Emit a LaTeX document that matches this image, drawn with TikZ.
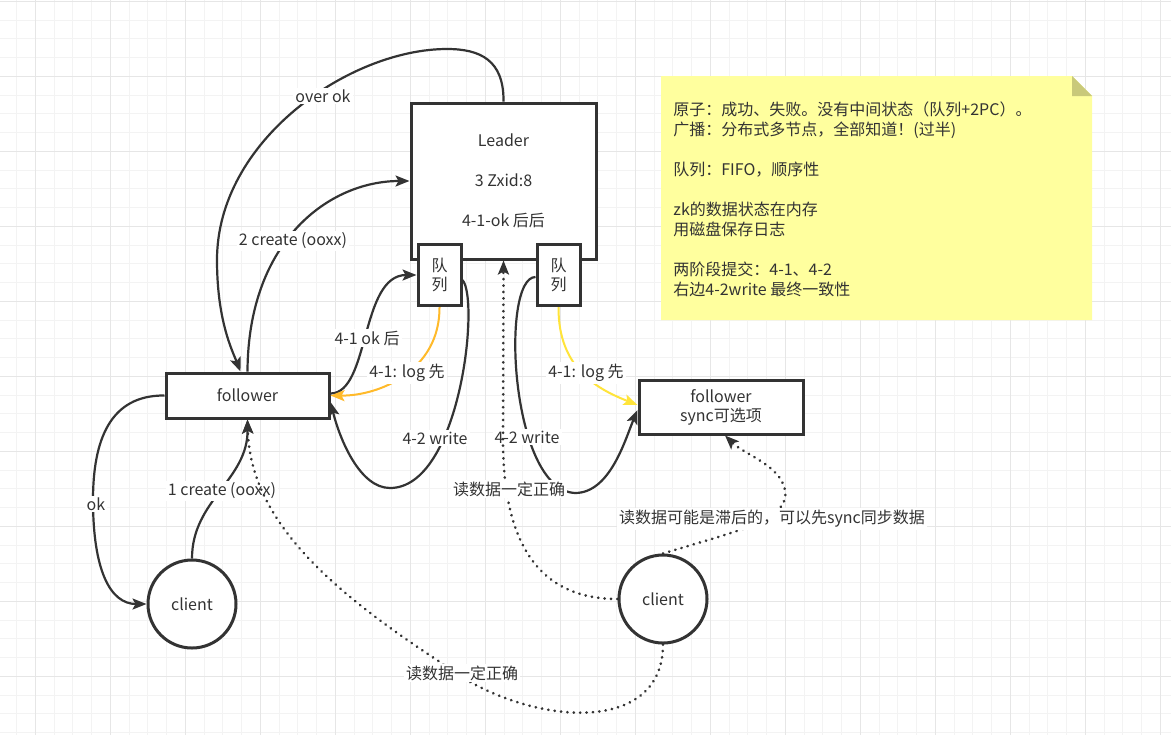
\documentclass[tikz,border=0pt]{standalone}
\usepackage{fontspec}
\setmainfont{Noto Sans CJK SC}
\usetikzlibrary{arrows.meta}
\definecolor{ink}{HTML}{333333}
\definecolor{gridminor}{HTML}{F3F3F3}
\definecolor{gridmajor}{HTML}{E6E6E6}
\definecolor{logorange}{HTML}{FFBA2A}
\definecolor{logyellow}{HTML}{FFE43A}
\definecolor{memofill}{HTML}{FFFF9E}
\definecolor{memofold}{HTML}{C9C97A}
\tikzset{
  box/.style={draw=ink, line width=1.5pt, fill=white, text=ink, inner sep=0pt},
  round/.style={circle, draw=ink, line width=1.5pt, fill=white, text=ink, minimum size=44pt, inner sep=0pt},
  link/.style={draw=ink, line width=1.1pt, ->, >={Stealth[length=7pt,width=5.5pt,inset=1.5pt]}},
  logline/.style={link, line width=1pt},
  readlink/.style={link, line width=1.4pt, line cap=round, dash pattern=on 0.1pt off 3.1pt},
  lbl/.style={fill=white, text=ink, inner sep=1pt}
}
\begin{document}
\begin{tikzpicture}[x=0.5pt, y=-0.5pt, font=\fontsize{8pt}{10pt}\selectfont]
	\useasboundingbox (0,0) rectangle (1171,735);
	\fill[white] (0,0) rectangle (1171,735);
	% grid
	\foreach \gx in {0,...,62} \draw[gridminor, line width=0.5pt] ({16.7+18.75*\gx},0) -- ({16.7+18.75*\gx},735);
	\foreach \gy in {0,...,39} \draw[gridminor, line width=0.5pt] (0,{1.3+18.75*\gy}) -- (1171,{1.3+18.75*\gy});
	\foreach \gx in {0,...,15} \draw[gridmajor, line width=0.5pt] ({35.7+75*\gx},0) -- ({35.7+75*\gx},735);
	\foreach \gy in {0,...,9} \draw[gridmajor, line width=0.5pt] (0,{1.3+75*\gy}) -- (1171,{1.3+75*\gy});

	% note
	\fill[memofill] (661,76) -- (1072,76) -- (1092,96) -- (1092,320) -- (661,320) -- cycle;
	\fill[memofold] (1072,76) -- (1072,96) -- (1092,96) -- cycle;
	\node[anchor=north west, align=left, text=ink, inner sep=0pt] (memo) at (673,101) {原子：成功、失败。没有中间状态（队列+2PC）。\\广播：分布式多节点，全部知道！(过半)\\[10pt]队列：FIFO，顺序性\\[10pt]zk的数据状态在内存\\用磁盘保存日志\\[10pt]两阶段提交：4-1、4-2\\右边4-2write 最终一致性};

	% nodes
	\node[box, minimum width=92.5pt, minimum height=78pt, align=center, font=\fontsize{8pt}{20pt}\selectfont] (leader) at (503.5,181) {Leader\\3 Zxid:8\\4-1-ok 后后};
	\node[box, minimum width=21.5pt, minimum height=30.5pt, align=center, font=\fontsize{8pt}{9.5pt}\selectfont] (q1) at (439.5,275) {队\\列};
	\node[box, minimum width=21.5pt, minimum height=30.5pt, align=center, font=\fontsize{8pt}{9.5pt}\selectfont] (q2) at (558.5,275) {队\\列};
	\node[box, minimum width=81.5pt, minimum height=22.5pt] (fol1) at (247.5,395.5) {follower};
	\node[box, minimum width=82pt, minimum height=27pt, align=center, font=\fontsize{8pt}{9.5pt}\selectfont] (fol2) at (721,407) {follower\\sync可选项};
	\node[round] (cli1) at (192,604) {client};
	\node[round] (cli2) at (663,599) {client};

	% leader <-> follower
	\draw[link] (leader.north) .. controls (504,60) and (480,49) .. (447,49) .. controls (350,49) and (217,140) .. (217,260) .. controls (217,320) and (232,350) .. ([xshift=-3.5pt]fol1.north) node[lbl] at (323,96) {over ok};
	\draw[link] (fol1.north) .. controls (248,240) and (330,181) .. (leader.west) node[lbl] at (293,241) {2 create (ooxx)};
	\draw[link] ([yshift=1pt]fol1.east) .. controls (370,393) and (360,275) .. (q1.west) node[lbl] at (367,338) {4-1 ok 后};
	\draw[logline, draw=logorange] (q1.south) .. controls (440,370) and (380,396) .. (fol1.east) node[lbl] at (407,373) {4-1: log 先};
	\draw[link] ([yshift=-2.5pt]q1.east) .. controls (480,300) and (460,488) .. (390,488) .. controls (360,488) and (340,440) .. ([yshift=-3.25pt]fol1.east) node[lbl] at (435,438) {4-2 write};
	% leader -> follower sync
	\draw[link] ([yshift=-1pt]q2.west) .. controls (500,277) and (510,490) .. (575,493) .. controls (610,493) and (625,440) .. ([yshift=-1.5pt]fol2.west) node[lbl] at (527,437) {4-2 write};
	\draw[logline, draw=logyellow] (q2.south) .. controls (558,370) and (600,390) .. ([yshift=1pt]fol2.west) node[lbl] at (586,373) {4-1: log 先};

	% client 1
	\draw[link] (fol1.west) .. controls (110,395) and (93,440) .. (93,500) .. controls (93,570) and (110,604) .. (cli1.west) node[lbl] at (96,504) {ok};
	\draw[link] (cli1.north) .. controls (192,500) and (248,480) .. (fol1.south) node[lbl] at (222,491) {1 create (ooxx)};

	% client 2 reads
	\draw[readlink] (cli2.west) .. controls (530,599) and (503,530) .. (503,440) -- (leader.south) node[lbl] at (509,489) {读数据一定正确};
	\draw[readlink] (cli2.north) .. controls (740,530) and (790,520) .. (785,490) .. controls (780,465) and (745,455) .. ([xshift=2pt]fol2.south) node[lbl] at (772,519) {读数据可能是滞后的，可以先sync同步数据};
	\draw[readlink] (cli2.south) .. controls (663,740) and (520,725) .. (440,662) .. controls (330,590) and (250,520) .. (fol1.south) node[lbl] at (462,673) {读数据一定正确};
\end{tikzpicture}
\end{document}
